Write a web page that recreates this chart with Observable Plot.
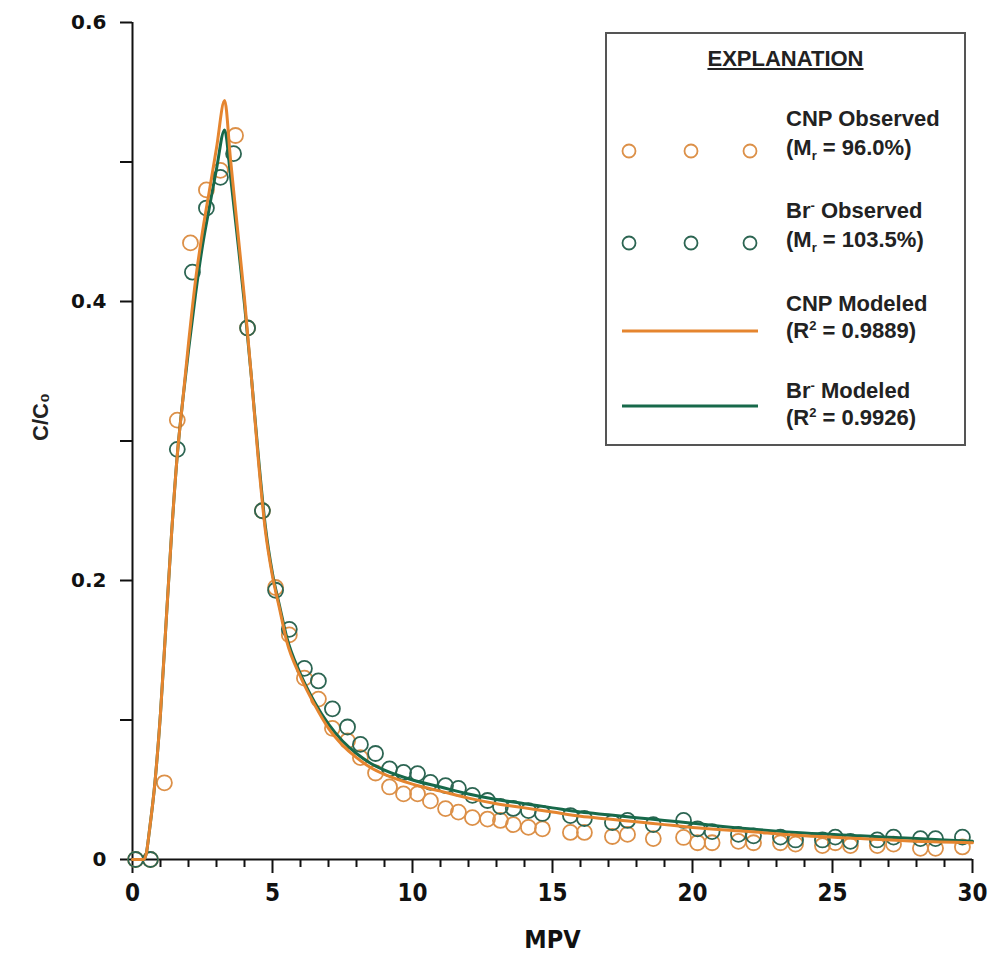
<!DOCTYPE html>
<html>
<head>
<meta charset="utf-8">
<script src="https://cdn.jsdelivr.net/npm/d3@7"></script>
<script src="https://cdn.jsdelivr.net/npm/@observablehq/plot@0.6"></script>
<style>
  body { margin: 0; background: #fff; }
  #wrap { position: relative; width: 989px; height: 962px; }
  #legend { position: absolute; left: 605px; top: 32px; width: 357px; height: 410px;
    border: 2px solid #555; background: #fff; font-family: "Liberation Sans", Arial, sans-serif;
    font-weight: bold; font-size: 22px; color: #222; }
  #legend .t { position: absolute; line-height: 24px; white-space: nowrap; }
  #legend sub, #legend sup { font-size: 13px; line-height: 0; }
  #legend svg { position: absolute; left: 0; top: 0; }
</style>
</head>
<body>
<div id="wrap"></div>
<script>
// ---- data ----
const xTicks = [0, 5, 10, 15, 20, 25, 30];
const xMinorTicks = [1,2,3,4,6,7,8,9,11,12,13,14,16,17,18,19,21,22,23,24,26,27,28,29];
const yTicks = [0, 0.2, 0.4, 0.6];
const yMinorTicks = [0.1, 0.3, 0.5];

const cnpObsX = [0.11, 0.64, 1.14, 1.6, 2.07, 2.64, 3.14, 3.68, 4.11, 4.64, 5.11, 5.6, 6.14, 6.64, 7.14, 7.68, 8.14, 8.68, 9.18, 9.68, 10.18, 10.64, 11.18, 11.64, 12.14, 12.68, 13.14, 13.6, 14.14, 14.64, 15.64, 16.14, 17.14, 17.68, 18.6, 19.68, 20.18, 20.7, 21.64, 22.18, 23.14, 23.68, 24.64, 25.1, 25.64, 26.6, 27.18, 28.14, 28.68, 29.64];
const cnpObsY = [0, 0, 0.055, 0.315, 0.442, 0.48, 0.494, 0.519, 0.381, 0.25, 0.195, 0.161, 0.13, 0.115, 0.094, 0.085, 0.073, 0.062, 0.052, 0.047, 0.047, 0.042, 0.0365, 0.034, 0.03, 0.029, 0.028, 0.025, 0.023, 0.022, 0.0194, 0.0194, 0.0165, 0.018, 0.015, 0.0158, 0.012, 0.012, 0.013, 0.012, 0.012, 0.011, 0.010, 0.012, 0.010, 0.010, 0.011, 0.008, 0.008, 0.009];

const brObsX = [0.11, 0.64, 1.6, 2.14, 2.64, 3.14, 3.61, 4.11, 4.64, 5.11, 5.6, 6.14, 6.64, 7.14, 7.68, 8.14, 8.68, 9.18, 9.68, 10.18, 10.64, 11.18, 11.64, 12.14, 12.68, 13.14, 13.6, 14.14, 14.64, 15.64, 16.14, 17.14, 17.68, 18.6, 19.68, 20.18, 20.7, 21.64, 22.18, 23.14, 23.68, 24.64, 25.1, 25.64, 26.6, 27.18, 28.14, 28.68, 29.64];
const brObsY = [0, 0, 0.294, 0.421, 0.467, 0.489, 0.506, 0.381, 0.25, 0.193, 0.165, 0.137, 0.128, 0.108, 0.095, 0.0825, 0.076, 0.065, 0.0624, 0.0616, 0.0553, 0.053, 0.051, 0.046, 0.0423, 0.038, 0.0366, 0.035, 0.033, 0.0315, 0.0294, 0.0265, 0.028, 0.025, 0.028, 0.022, 0.020, 0.018, 0.017, 0.016, 0.014, 0.014, 0.016, 0.013, 0.014, 0.016, 0.015, 0.015, 0.016];

const modelX = [0, 0.4, 0.5, 0.6, 0.8, 1.0, 1.2, 1.4, 1.6, 1.8, 2.0, 2.25, 2.5, 2.75, 3.0, 3.29, 3.5, 3.75, 4.0, 4.25, 4.5, 4.75, 5.0, 5.25, 5.5, 6, 6.5, 7, 7.5, 8, 8.5, 9, 10, 11, 12, 13, 14, 15, 16, 17, 18, 19, 20, 22, 24, 26, 28, 30];
const cnpModel = [0, 0, 0.005, 0.02, 0.055, 0.105, 0.17, 0.235, 0.29, 0.33, 0.37, 0.415, 0.45, 0.48, 0.51, 0.544, 0.502, 0.452, 0.402, 0.345, 0.285, 0.235, 0.203, 0.18, 0.157, 0.131, 0.111, 0.094, 0.082, 0.073, 0.066, 0.061, 0.054, 0.049, 0.044, 0.040, 0.037, 0.034, 0.031, 0.029, 0.027, 0.025, 0.023, 0.020, 0.017, 0.015, 0.013, 0.012];
const brModel = [0, 0, 0.005, 0.02, 0.055, 0.105, 0.17, 0.235, 0.29, 0.33, 0.365, 0.405, 0.44, 0.468, 0.495, 0.523, 0.49, 0.445, 0.398, 0.345, 0.288, 0.238, 0.205, 0.182, 0.16, 0.133, 0.113, 0.097, 0.085, 0.076, 0.069, 0.064, 0.057, 0.052, 0.047, 0.043, 0.040, 0.037, 0.034, 0.032, 0.030, 0.028, 0.026, 0.022, 0.019, 0.017, 0.015, 0.013];

const ORANGE = "#E5852F";
const ORANGE_PT = "#DC9048";
const GREEN = "#17694A";
const GREEN_PT = "#2C6552";

const cnpObs = cnpObsX.map((x, i) => ({x, y: cnpObsY[i]}));
const brObs = brObsX.map((x, i) => ({x, y: brObsY[i]}));
const cnpLine = modelX.map((x, i) => ({x, y: cnpModel[i]}));
const brLine = modelX.map((x, i) => ({x, y: brModel[i]}));

const narrow = "'Liberation Sans Narrow', 'DejaVu Sans Condensed', 'Arial Narrow', sans-serif";

const chart = Plot.plot({
  width: 989,
  height: 962,
  marginLeft: 132,
  marginRight: 17,
  marginTop: 22,
  marginBottom: 103,
  x: {domain: [0, 30]},
  y: {domain: [0, 0.6]},
  style: {background: "#fff", color: "#111", overflow: "visible"},
  marks: [
    Plot.axisX({ticks: xMinorTicks, tickSize: 8, strokeWidth: 2, tickFormat: () => "", label: null}),
    Plot.axisX({ticks: xTicks, tickSize: 14, strokeWidth: 2, tickPadding: 10, label: null,
      fontSize: 24, fontWeight: "bold", fontFamily: narrow, tickFormat: d => String(d)}),
    Plot.axisY({ticks: yMinorTicks, tickSize: 12, strokeWidth: 2, tickFormat: () => "", label: null}),
    Plot.axisY({ticks: yTicks, tickSize: 12, strokeWidth: 2, tickPadding: 14, label: null,
      fontSize: 20, fontWeight: "bold", fontFamily: "'DejaVu Sans', sans-serif",
      tickFormat: d => d === 0 ? "0" : d.toFixed(1)}),
    Plot.ruleY([0], {stroke: "#111", strokeWidth: 2}),
    Plot.ruleX([0], {stroke: "#111", strokeWidth: 2}),
    Plot.text(["MPV"], {frameAnchor: "bottom", dy: 88, fontSize: 25, fontWeight: "bold", fontFamily: narrow, fill: "#111"}),
    Plot.text(["C/C\u2080"], {frameAnchor: "left", rotate: -90, dx: -92, fontSize: 22, fontWeight: "bold", fontFamily: "'Liberation Sans', Arial, sans-serif", fill: "#222"}),
    Plot.dot(cnpObs, {x: "x", y: "y", r: 7.5, stroke: ORANGE_PT, strokeWidth: 1.8, fill: "none"}),
    Plot.dot(brObs, {x: "x", y: "y", r: 7.5, stroke: GREEN_PT, strokeWidth: 1.8, fill: "none"}),
    Plot.line(brLine, {x: "x", y: "y", stroke: GREEN, strokeWidth: 3, curve: "monotone-x"}),
    Plot.line(cnpLine, {x: "x", y: "y", stroke: ORANGE, strokeWidth: 3, curve: "monotone-x"})
  ]
});

const wrap = document.getElementById("wrap");
wrap.appendChild(chart);

// Legend (HTML overlay)
const legend = document.createElement("div");
legend.id = "legend";
legend.innerHTML = `
  <svg width="357" height="410">
    <circle cx="22" cy="117" r="6.5" fill="none" stroke="${ORANGE_PT}" stroke-width="1.8"/>
    <circle cx="84" cy="117" r="6.5" fill="none" stroke="${ORANGE_PT}" stroke-width="1.8"/>
    <circle cx="143" cy="117" r="6.5" fill="none" stroke="${ORANGE_PT}" stroke-width="1.8"/>
    <circle cx="22" cy="209" r="6.5" fill="none" stroke="${GREEN_PT}" stroke-width="1.8"/>
    <circle cx="84" cy="209" r="6.5" fill="none" stroke="${GREEN_PT}" stroke-width="1.8"/>
    <circle cx="143" cy="209" r="6.5" fill="none" stroke="${GREEN_PT}" stroke-width="1.8"/>
    <line x1="15" x2="151" y1="297" y2="297" stroke="${ORANGE}" stroke-width="3"/>
    <line x1="15" x2="151" y1="372" y2="372" stroke="${GREEN}" stroke-width="3"/>
  </svg>
  <div class="t" style="left:0;width:357px;text-align:center;top:13px;text-decoration:underline;">EXPLANATION</div>
  <div class="t" style="left:179px;top:73px;">CNP Observed</div>
  <div class="t" style="left:179px;top:102px;">(M<sub>r</sub> = 96.0%)</div>
  <div class="t" style="left:179px;top:165px;">Br<sup>-</sup> Observed</div>
  <div class="t" style="left:179px;top:194px;">(M<sub>r</sub> = 103.5%)</div>
  <div class="t" style="left:179px;top:258px;">CNP Modeled</div>
  <div class="t" style="left:179px;top:285px;">(R<sup>2</sup> = 0.9889)</div>
  <div class="t" style="left:179px;top:345px;">Br<sup>-</sup> Modeled</div>
  <div class="t" style="left:179px;top:372px;">(R<sup>2</sup> = 0.9926)</div>
`;
wrap.appendChild(legend);
</script>
</body>
</html>
